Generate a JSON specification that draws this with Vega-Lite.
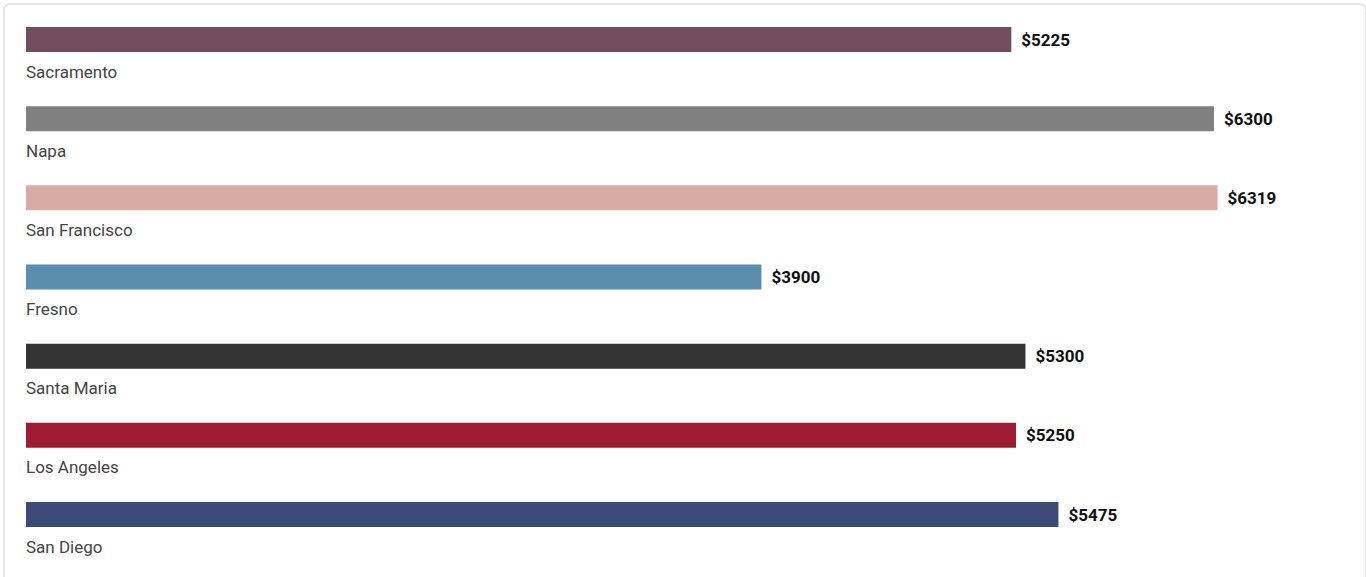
{
  "$schema": "https://vega.github.io/schema/vega-lite/v6.json",
  "autosize": "none",
  "padding": {"left": 4, "top": 4, "right": 0, "bottom": 0},
  "width": 1362,
  "height": 600,
  "background": "white",
  "config": {
    "view": {"stroke": "#dfdfe5", "strokeWidth": 1.5, "cornerRadius": 6},
    "font": "Roboto"
  },
  "data": {
    "values": [
      {"city": "Sacramento", "value": 5225, "color": "#734d5e"},
      {"city": "Napa", "value": 6300, "color": "#808080"},
      {"city": "San Francisco", "value": 6319, "color": "#d9aba5"},
      {"city": "Fresno", "value": 3900, "color": "#5b8dae"},
      {"city": "Santa Maria", "value": 5300, "color": "#333333"},
      {"city": "Los Angeles", "value": 5250, "color": "#9e1b32"},
      {"city": "San Diego", "value": 5475, "color": "#3b4a76"}
    ]
  },
  "encoding": {
    "y": {
      "field": "city",
      "type": "nominal",
      "sort": null,
      "scale": {"type": "point", "range": [35.5, 510.5], "padding": 0},
      "axis": null
    }
  },
  "layer": [
    {
      "mark": {"type": "bar", "height": 25},
      "encoding": {
        "x": {
          "field": "value",
          "type": "quantitative",
          "scale": {"domain": [0, 7000], "range": [22, 1342], "nice": false, "zero": true},
          "axis": null
        },
        "color": {"field": "color", "type": "nominal", "scale": null, "legend": null}
      }
    },
    {
      "mark": {"type": "text", "align": "left", "baseline": "middle", "dx": 10, "dy": 1, "fontSize": 17, "fontWeight": "bold", "color": "#111111"},
      "encoding": {
        "x": {"field": "value", "type": "quantitative"},
        "text": {"field": "value", "type": "quantitative", "format": "$d"}
      }
    },
    {
      "mark": {"type": "text", "align": "left", "baseline": "middle", "dy": 33, "fontSize": 17, "color": "#444444"},
      "encoding": {
        "x": {"datum": 0, "type": "quantitative"},
        "text": {"field": "city", "type": "nominal"}
      }
    }
  ]
}
